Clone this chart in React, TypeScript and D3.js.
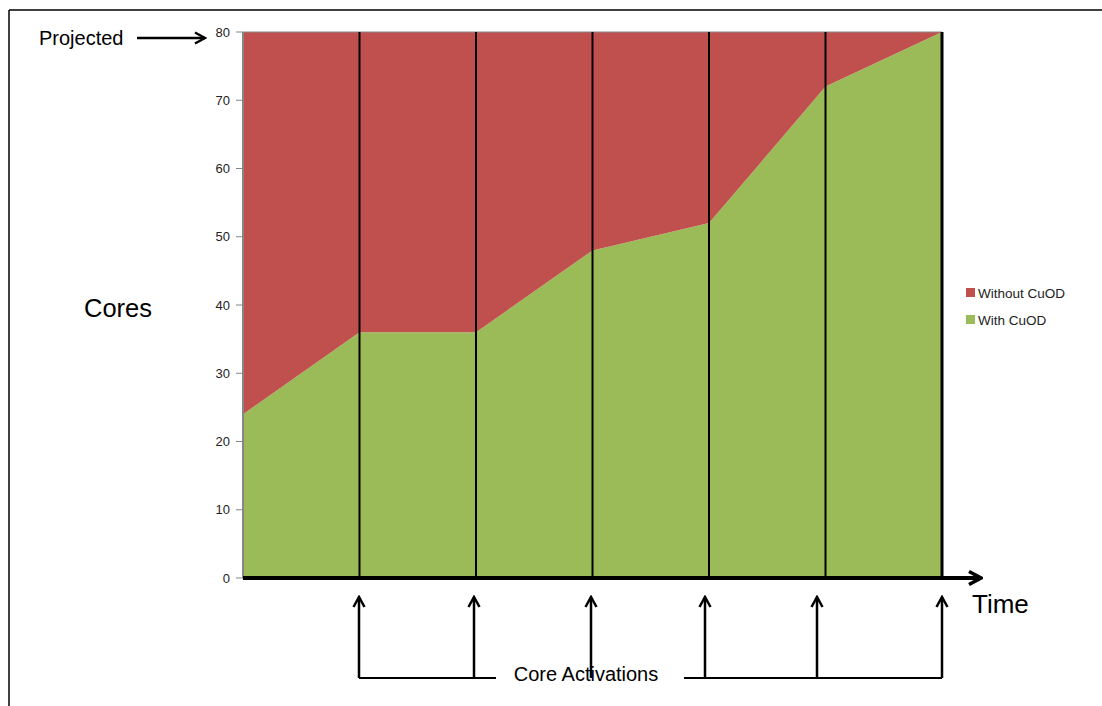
import React from 'react';
import * as d3 from 'd3';

// time steps (each one a core activation) and stacked core counts
const steps = [0, 1, 2, 3, 4, 5, 6];
const withCuOD = [24, 36, 36, 48, 52, 72, 80];
const withoutCuOD = [56, 44, 44, 32, 28, 8, 0];
const seriesNames = ['With CuOD', 'Without CuOD'];
const yTicks = [0, 10, 20, 30, 40, 50, 60, 70, 80];

const W = 1102;
const H = 706;
const FONT = '"Liberation Sans", Arial, sans-serif';
const COLORS: Record<string, string> = {
  'With CuOD': '#9BBB59',
  'Without CuOD': '#C0504D',
};
// hand placed arrows under the axis (they drift a bit from the grid lines)
const ARROW_X = [359, 474, 591, 705, 817, 942];

const App = () => {
  const x = d3.scaleLinear().domain([0, 6]).range([243, 942]);
  const y = d3.scaleLinear().domain([0, 80]).range([578, 32]);

  const rows = steps.map((s, i) => ({
    step: s,
    'With CuOD': withCuOD[i],
    'Without CuOD': withoutCuOD[i],
  }));
  const stacked = d3.stack<any>().keys(seriesNames)(rows);

  const area = d3
    .area<any>()
    .x((d) => x(d.data.step))
    .y0((d) => y(d[0]))
    .y1((d) => y(d[1]));

  const y0 = y(0);

  return (
    <svg
      width={W}
      height={H}
      viewBox={`0 0 ${W} ${H}`}
      style={{ position: 'absolute', left: 0, top: 0, background: '#fff' }}
      fontFamily={FONT}
    >
      <defs>
        <marker id="head" viewBox="0 0 14 14" refX="12" refY="7" markerWidth="14" markerHeight="14" markerUnits="userSpaceOnUse" orient="auto">
          <path d="M2,1.5 L12,7 L2,12.5" fill="none" stroke="#000" strokeWidth={2.5} />
        </marker>
        <marker id="headBig" viewBox="0 0 16 16" refX="14" refY="8" markerWidth="16" markerHeight="16" markerUnits="userSpaceOnUse" orient="auto">
          <path d="M2,1.5 L14,8 L2,14.5" fill="none" stroke="#000" strokeWidth={3.5} />
        </marker>
      </defs>

      {/* outer frame */}
      <line x1={9} x2={W} y1={10} y2={10} stroke="#000" strokeWidth={1.5} />
      <line x1={9} x2={9} y1={10} y2={H} stroke="#000" strokeWidth={1.5} />

      {stacked.map((s) => (
        <path key={s.key} d={area(s) || ''} fill={COLORS[s.key]} />
      ))}

      {/* top edge of plot area */}
      <line x1={x(0)} x2={x(6)} y1={y(80)} y2={y(80)} stroke="#888" strokeWidth={1} />

      {/* y axis */}
      <line x1={x(0)} x2={x(0)} y1={y(80)} y2={y0} stroke="#868686" strokeWidth={2} />
      {yTicks.map((t) => (
        <g key={t} transform={`translate(0,${y(t)})`}>
          <line x1={x(0) - 7} x2={x(0)} stroke="#868686" strokeWidth={1} />
          <text x={x(0) - 13} dy="0.35em" textAnchor="end" fontSize={13} fill="#222">
            {t}
          </text>
        </g>
      ))}

      {/* vertical activation lines */}
      {steps.slice(1).map((s) => (
        <line
          key={s}
          x1={x(s)}
          x2={x(s)}
          y1={y(80)}
          y2={y0}
          stroke="#000"
          strokeWidth={s === 6 ? 3 : 2}
        />
      ))}

      {/* x axis with arrow */}
      <line x1={x(0)} x2={981} y1={y0} y2={y0} stroke="#000" strokeWidth={4} markerEnd="url(#headBig)" />
      <text x={972} y={613} fontSize={26} fill="#000">
        Time
      </text>

      {/* Cores label */}
      <text x={84} y={317} fontSize={25.5} fill="#000">
        Cores
      </text>

      {/* Projected */}
      <text x={39} y={45} fontSize={20} fill="#000">
        Projected
      </text>
      <line x1={137} x2={205} y1={38} y2={38} stroke="#000" strokeWidth={2.5} markerEnd="url(#head)" />

      {/* core activation arrows */}
      {ARROW_X.map((ax) => (
        <line key={ax} x1={ax} x2={ax} y1={678} y2={597} stroke="#000" strokeWidth={2.5} markerEnd="url(#head)" />
      ))}
      <line x1={ARROW_X[0]} x2={496} y1={678} y2={678} stroke="#000" strokeWidth={2} />
      <line x1={684} x2={ARROW_X[5]} y1={678} y2={678} stroke="#000" strokeWidth={2} />
      <text x={586} y={681} textAnchor="middle" fontSize={20} fill="#000">
        Core Activations
      </text>

      {/* legend */}
      {['Without CuOD', 'With CuOD'].map((k, i) => (
        <g key={k} transform={`translate(966,${288 + i * 27})`}>
          <rect width={9} height={9} fill={COLORS[k]} />
          <text x={12} y={9.5} fontSize={13.5} fill="#222">
            {k}
          </text>
        </g>
      ))}
    </svg>
  );
};

export default App;
